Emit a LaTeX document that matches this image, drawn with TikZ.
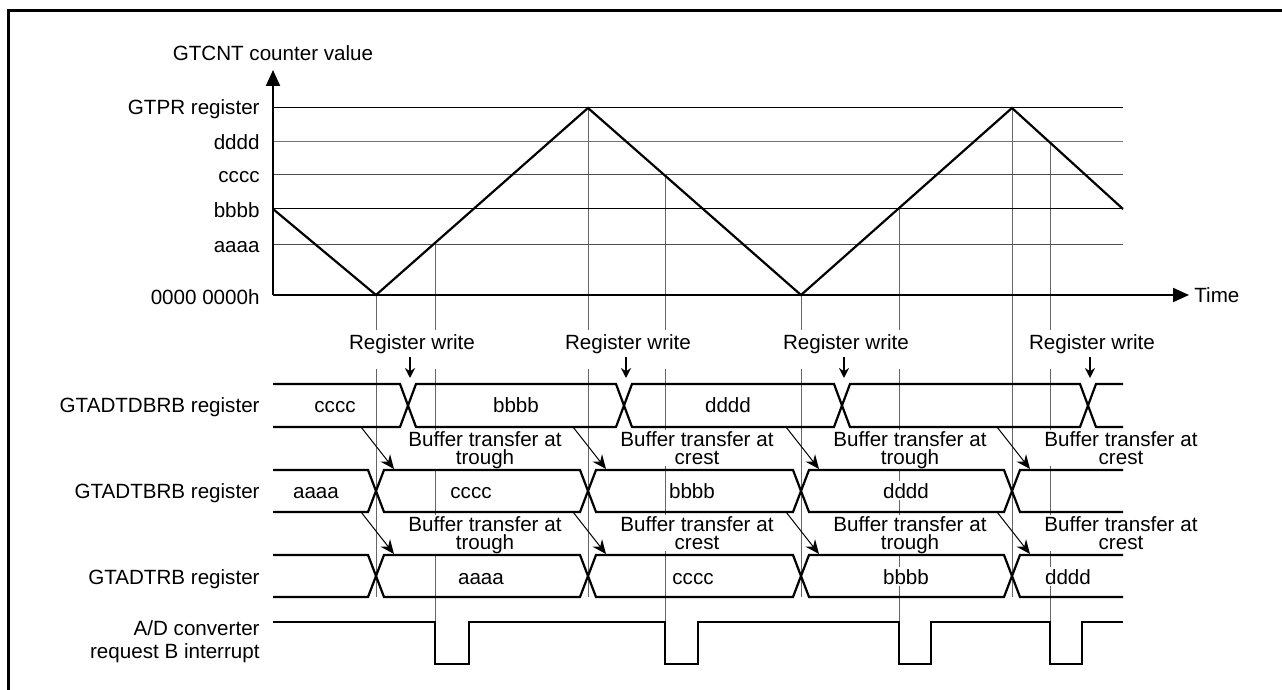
\documentclass[tikz,border=0pt]{standalone}
\usepackage{fontspec}
\setmainfont{Liberation Sans}
\usetikzlibrary{arrows.meta}

\begin{document}
\begin{tikzpicture}[
    x=0.5pt, y=-0.5pt,
    >=Stealth,
    every node/.style={font=\fontsize{10.3}{9}\selectfont, inner sep=0pt},
    sig/.style={line width=1.1pt, line join=miter},
    level/.style={line width=0.5pt},
    guide/.style={line width=0.5pt, black!60},
    axis/.style={line width=1pt, -{Triangle[length=8pt,width=7pt]}},
    ylab/.style={anchor=base east},
    val/.style={anchor=base, fill=white, inner sep=1pt},
    regwrite/.style={anchor=base, fill=white, text height=10pt, text depth=9.5pt},
    xferlabel/.style={anchor=north, fill=white, align=center, inner sep=0.5pt},
    xfer/.style={->, line width=0.5pt, >={Stealth[length=7pt,width=6pt]}},
    wr/.style={->, line width=0.9pt, >={Stealth[length=5pt,width=5pt]}},
]

\useasboundingbox (0,0) rectangle (1282,690);
\draw[line width=1.5pt] (8,690) -- (8,11) -- (1282,11);

% === Guide lines (drawn first, texts cover them) ===
\foreach \x/\ya/\yb in {376/295/597, 435/245/622, 588/108/597, 665/175/622,
                        801/295/597, 899/209/622, 1012/108/597, 1050/142/622} {
    \draw[guide] (\x,\ya) -- (\x,\yb);
}

% === Counter levels ===
\draw[level] (273,108) -- (1123,108);
\draw[level, black!55] (273,142) -- (1123,142);
\draw[level, black!70] (273,175) -- (1123,175);
\draw[level] (273,209) -- (1123,209);
\draw[level, black!70] (273,245) -- (1123,245);

\node[ylab] (lvP) at (260,115) {GTPR register};
\node[ylab] (lvD) at (260,150) {dddd};
\node[ylab] (lvC) at (260,183) {cccc};
\node[ylab] (lvB) at (260,218) {bbbb};
\node[ylab] (lvA) at (260,253) {aaaa};
\node[ylab] (lvZ) at (260,305) {0000 0000h};

% === Axes ===
\coordinate (O) at (273,295);
\coordinate (ytip) at (273,70);
\coordinate (xtip) at (1189,295);
\draw[axis] (O) -- (ytip);
\draw[axis] (O) -- (xtip);
\node[anchor=base] (yname) at (273,61) {GTCNT counter value};
\node[anchor=base west] (xname) at (1194,302) {Time};

% === Counter ===
\draw[sig] (273,209) -- (376,295) -- (588,108) -- (801,295) -- (1012,108) -- (1123,209);

% === Register write ===
\foreach \c [count=\i] in {408,624,842,1088} {
    \node[regwrite] (rw\i) at (\c+4,350) {Register write};
    \coordinate (rwa\i) at (\c+2,357);
    \coordinate (rwb\i) at (\c+2,378);
    \draw[wr] (rwa\i) -- (rwb\i);
}

% === Buffer transfers ===
\foreach \c/\when [count=\i] in {376/trough, 588/crest, 801/trough, 1012/crest} {
    \node[xferlabel] (ta\i) at (\c+109,430) {Buffer transfer at\\\when};
    \node[xferlabel] (tb\i) at (\c+109,515) {Buffer transfer at\\\when};
    \coordinate (fa\i) at (\c-15,427);
    \coordinate (ga\i) at (\c+18,469);
    \coordinate (fb\i) at (\c-15,512);
    \coordinate (gb\i) at (\c+18,554);
    \draw[xfer] (fa\i) -- (ga\i);
    \draw[xfer] (fb\i) -- (gb\i);
}

% === GTADTDBRB row ===
\node[ylab] (nameA) at (260,412) {GTADTDBRB register};
\draw[sig] (273,384) -- (400,384) -- (416,427) -- (616,427) -- (632,384) -- (834,384)
    -- (850,427) -- (1080,427) -- (1096,384) -- (1123,384);
\draw[sig] (273,427) -- (400,427) -- (416,384) -- (616,384) -- (632,427) -- (834,427)
    -- (850,384) -- (1080,384) -- (1096,427) -- (1123,427);
\node[val] (a1) at (335,412) {cccc};
\node[val] (a2) at (516,412) {bbbb};
\node[val] (a3) at (728,412) {dddd};

% === GTADTBRB row ===
\node[ylab] (nameB) at (260,498) {GTADTBRB register};
\draw[sig] (273,470) -- (368,470) -- (384,512) -- (580,512) -- (596,470) -- (793,470)
    -- (809,512) -- (1004,512) -- (1020,470) -- (1123,470);
\draw[sig] (273,512) -- (368,512) -- (384,470) -- (580,470) -- (596,512) -- (793,512)
    -- (809,470) -- (1004,470) -- (1020,512) -- (1123,512);
\node[val] (b1) at (316,498) {aaaa};
\node[val] (b2) at (471,498) {cccc};
\node[val] (b3) at (692,498) {bbbb};
\node[val] (b4) at (906,498) {dddd};

% === GTADTRB row ===
\node[ylab] (nameC) at (260,584) {GTADTRB register};
\draw[sig] (273,555) -- (368,555) -- (384,597) -- (580,597) -- (596,555) -- (793,555)
    -- (809,597) -- (1004,597) -- (1020,555) -- (1123,555);
\draw[sig] (273,597) -- (368,597) -- (384,555) -- (580,555) -- (596,597) -- (793,597)
    -- (809,555) -- (1004,555) -- (1020,597) -- (1123,597);
\node[val] (c1) at (481,584) {aaaa};
\node[val] (c2) at (693,584) {cccc};
\node[val] (c3) at (906,584) {bbbb};
\node[val] (c4) at (1068,584) {dddd};

% === A/D converter request B interrupt ===
\node[anchor=north east, align=right, font=\fontsize{10.3}{11.5}\selectfont] (nameD)
    at (260,620) {A/D converter\\request B interrupt};
\draw[sig] (273,622) -- (435,622) -- (435,664) -- (469,664) -- (469,622)
    -- (665,622) -- (665,664) -- (698,664) -- (698,622)
    -- (899,622) -- (899,664) -- (931,664) -- (931,622)
    -- (1050,622) -- (1050,664) -- (1082,664) -- (1082,622) -- (1123,622);

\end{tikzpicture}
\end{document}
